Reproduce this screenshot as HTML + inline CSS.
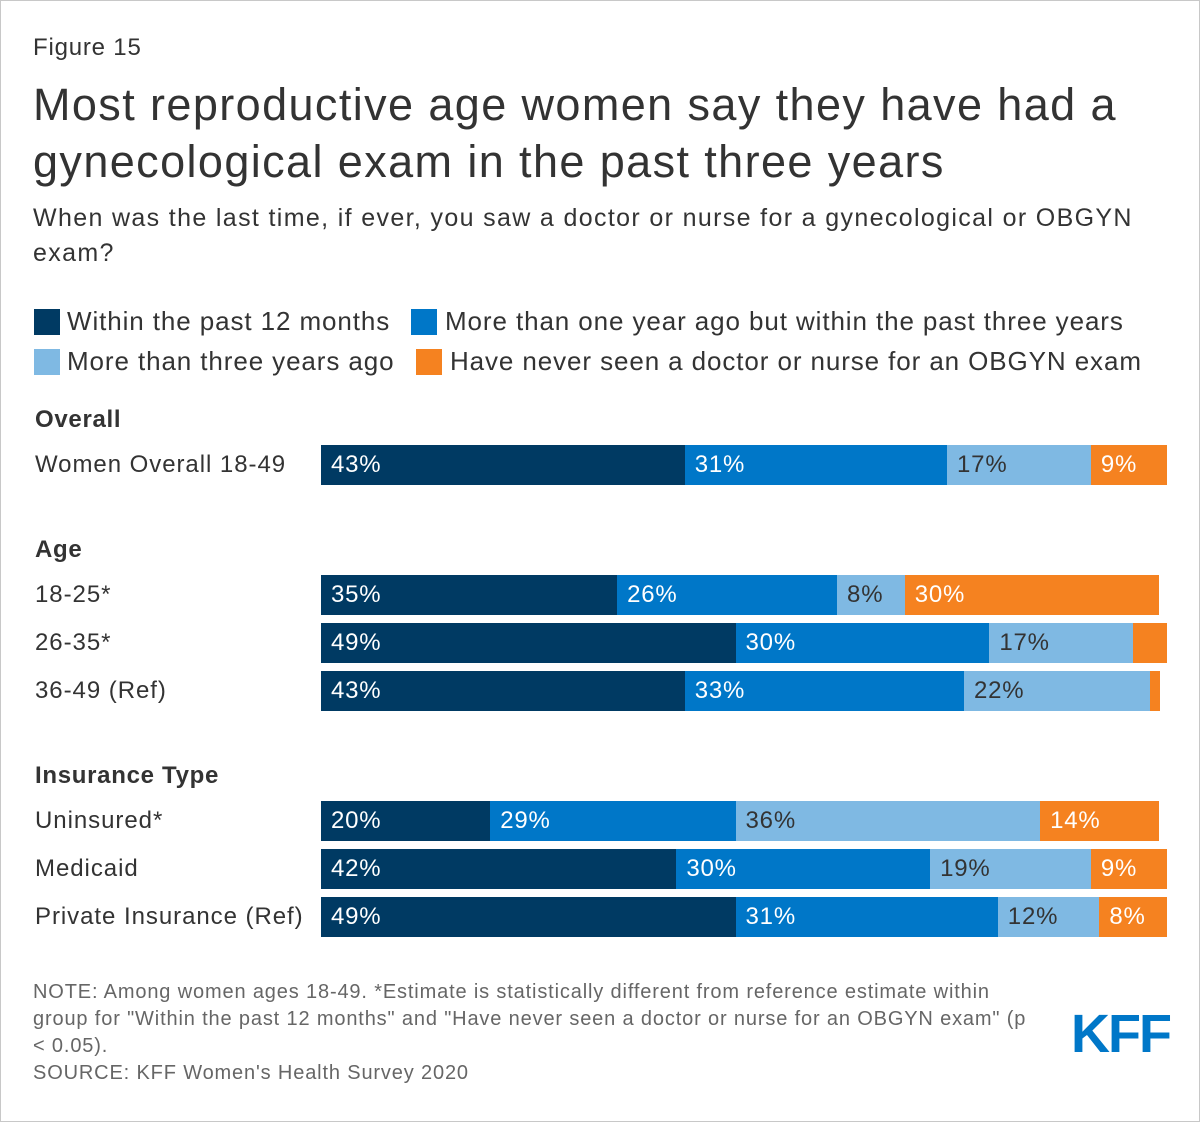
<!DOCTYPE html>
<html><head><meta charset="utf-8"><style>
body{margin:0;background:#fff;}
#c{position:relative;width:1198px;height:1120px;border:1px solid #c8c8c8;background:#fff;font-family:"Liberation Sans",sans-serif;color:#333;overflow:hidden;}
.a{position:absolute;white-space:nowrap;}
.sw{position:absolute;width:26px;height:26px;}
.lg{font-size:26px;letter-spacing:0.9px;}
</style></head><body>
<div id="c">
<div class="a" style="left:32px;top:33px;font-size:24px;letter-spacing:0.8px;">Figure 15</div>
<div class="a" style="left:32px;top:75px;font-size:45px;line-height:57px;letter-spacing:1.4px;color:#333;">Most reproductive age women say they have had a<br>gynecological exam in the past three years</div>
<div class="a" style="left:32px;top:200px;font-size:25px;line-height:35px;letter-spacing:1.35px;">When was the last time, if ever, you saw a doctor or nurse for a gynecological or OBGYN<br>exam?</div>
<div>
<div class="sw" style="left:33px;top:308px;background:#003a63;"></div>
<div class="a lg" style="left:66px;top:305px;">Within the past 12 months</div>
<div class="sw" style="left:410px;top:308px;background:#0077c8;"></div>
<div class="a lg" style="left:444px;top:305px;">More than one year ago but within the past three years</div>
<div class="sw" style="left:33px;top:348px;background:#7fb9e3;"></div>
<div class="a lg" style="left:66px;top:345px;">More than three years ago</div>
<div class="sw" style="left:415px;top:348px;background:#f58220;"></div>
<div class="a lg" style="left:449px;top:345px;">Have never seen a doctor or nurse for an OBGYN exam</div>
</div>
<div id="plot"></div>
<div class="a" style="left:32px;top:978px;font-size:20px;letter-spacing:0.85px;line-height:27px;color:#666;">NOTE: Among women ages 18-49. *Estimate is statistically different from reference estimate within<br>group for "Within the past 12 months" and "Have never seen a doctor or nurse for an OBGYN exam" (p<br>&lt; 0.05).<br>SOURCE: KFF Women's Health Survey 2020</div>
<div class="a" style="left:1070px;top:1002px;font-size:54px;font-weight:bold;color:#0077c8;letter-spacing:-2px;">KFF</div>
</div>
<script>
const categories=["Women Overall 18-49","18-25*","26-35*","36-49 (Ref)","Uninsured*","Medicaid","Private Insurance (Ref)"];
const within12=[43,35,49,43,20,42,49];
const oneToThree=[31,26,30,33,29,30,31];
const threePlus=[17,8,17,22,36,19,12];
const never=[9,30,4,1,14,9,8];
const groups=["Overall","Age","Insurance Type"];
const groupTops=[405,535,761];
const rowTops=[444,574,622,670,800,848,896];
const colors=["#003a63","#0077c8","#7fb9e3","#f58220"];
const seriesNames=["within-12-months","one-to-three-years","three-plus-years","never"];
const x0=320,scale=8.46,bh=40;
const xs=v=>v*scale;
const plot=document.getElementById('plot');
groups.forEach((g,i)=>{const d=document.createElement('div');d.className='a';d.style.cssText=`left:34px;top:${groupTops[i]}px;font-size:24px;font-weight:bold;letter-spacing:0.7px;`;d.textContent=g;


plot.appendChild(d);});
const series=[within12,oneToThree,threePlus,never];
categories.forEach((c,i)=>{
const l=document.createElement('div');l.className='a';l.style.cssText=`left:34px;top:${rowTops[i]+6}px;font-size:24px;letter-spacing:0.95px;`;l.textContent=c;


plot.appendChild(l);
let cum=0;
series.forEach((s,k)=>{const v=s[i];const b=document.createElement('div');b.className='a';
b.style.cssText=`left:${x0+xs(cum)}px;top:${rowTops[i]}px;width:${xs(v)}px;height:${bh}px;background:${colors[k]};color:${k==2?'#333':'#fff'};font-size:24px;letter-spacing:0.8px;line-height:${bh}px;box-sizing:border-box;padding-left:10px;overflow:hidden;`;
if(v>=5)b.textContent=v+'%';


plot.appendChild(b);cum+=v;});
});
</script>
</body></html>
